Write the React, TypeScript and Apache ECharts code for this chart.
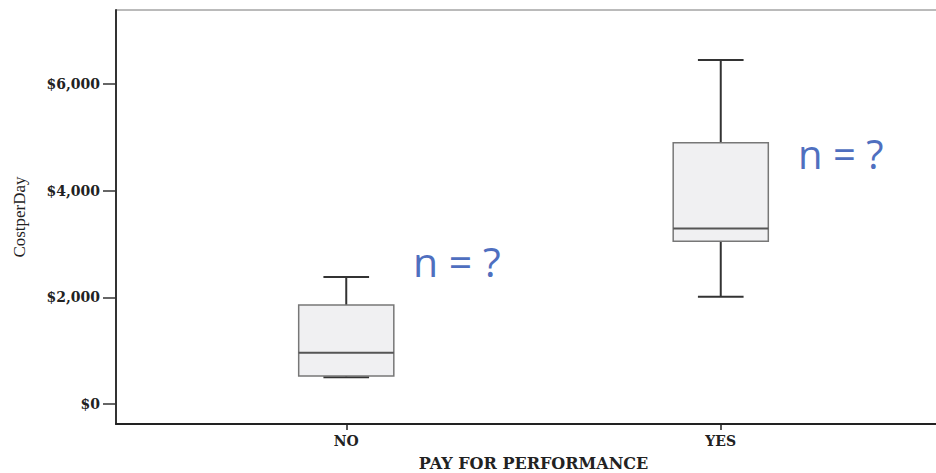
import React, { useEffect, useRef } from "react";
import * as echarts from "echarts";

const categories = ["NO", "YES"];
// [min, Q1, median, Q3, max]
const boxValues = [
  [500, 525, 960, 1855, 2380],
  [2010, 3055, 3290, 4900, 6450],
];
const yTicks = [0, 2000, 4000, 6000];
const yMin = -375;
const yMax = 7390;
const annotations = ["n = ?", "n = ?"];

export default function App() {
  const ref = useRef<HTMLDivElement>(null);
  useEffect(() => {
    if (!ref.current) return;
    const chart = echarts.init(ref.current, null, { renderer: "svg" });
    const serif = "'DejaVu Serif', 'Liberation Serif', serif";
    const option: any = {
      animation: false,
      backgroundColor: "#ffffff",
      grid: [
        { left: 116, right: -10, top: 10, bottom: 49, show: true, borderColor: "#777", borderWidth: 1, backgroundColor: "transparent", outerBoundsMode: "none", containLabel: false },
        { left: 159, right: 28, top: 10, bottom: 49, outerBoundsMode: "none", containLabel: false },
      ],
      xAxis: [
        {
          gridIndex: 0, type: "value", min: 0, max: 1,
          axisLine: { show: true, onZero: false, lineStyle: { color: "#222", width: 2 } },
          axisTick: { show: false }, axisLabel: { show: false }, splitLine: { show: false },
        },
        {
          gridIndex: 1, type: "category", data: categories,
          name: "PAY FOR PERFORMANCE", nameLocation: "middle", nameGap: 31,
          nameTextStyle: { fontFamily: serif, fontWeight: "bold", fontSize: 16, color: "#222", verticalAlign: "top" },
          axisLine: { show: false, onZero: false },
          axisTick: { show: true, alignWithLabel: true, length: 6, lineStyle: { color: "#222", width: 1.5 } },
          axisLabel: { fontFamily: serif, fontWeight: "bold", fontSize: 14, color: "#222", margin: 10 },
          splitLine: { show: false },
        },
      ],
      yAxis: [
        {
          gridIndex: 0, type: "value", min: yMin, max: yMax,
          name: "CostperDay", nameLocation: "middle", nameGap: 88, nameRotate: 90,
          nameTextStyle: { fontFamily: "'Liberation Serif', serif", fontSize: 17, color: "#222" },
          axisLine: { show: true, onZero: false, lineStyle: { color: "#333", width: 2 } },
          axisTick: { show: true, customValues: yTicks, length: 13, inside: false, lineStyle: { color: "#333", width: 1.5 } },
          axisLabel: {
            customValues: yTicks, margin: 16, fontFamily: serif, fontWeight: "bold", fontSize: 14, color: "#222",
            formatter: (v: number) => "$" + Number(v).toLocaleString("en-US"),
          },
          splitLine: { show: false },
        },
        { gridIndex: 1, type: "value", min: yMin, max: yMax, show: false },
      ],
      series: [
        {
          type: "custom",
          xAxisIndex: 1,
          yAxisIndex: 1,
          data: boxValues.map((b, i) => [i, ...b]),
          encode: { x: 0, y: [1, 2, 3, 4, 5] },
          renderItem: (params: any, api: any) => {
            const idx = api.value(0);
            const cx = api.coord([idx, api.value(3)])[0];
            const band = api.size([1, 0])[0];
            const half = band * 0.127;
            const cap = half * 0.48;
            const y = (k: number) => api.coord([idx, api.value(k)])[1];
            const yMn = y(1), yQ1 = y(2), yMd = y(3), yQ3 = y(4), yMx = y(5);
            const wl = { stroke: "#333", lineWidth: 2 };
            return {
              type: "group",
              children: [
                { type: "line", shape: { x1: cx, y1: yQ3, x2: cx, y2: yMx }, style: wl },
                { type: "line", shape: { x1: cx - cap, y1: yMx, x2: cx + cap, y2: yMx }, style: wl },
                { type: "line", shape: { x1: cx, y1: yQ1, x2: cx, y2: yMn }, style: wl },
                { type: "line", shape: { x1: cx - cap, y1: yMn, x2: cx + cap, y2: yMn }, style: wl },
                { type: "rect", shape: { x: cx - half, y: yQ3, width: half * 2, height: yQ1 - yQ3 }, style: { fill: "#f0f0f2", stroke: "#777", lineWidth: 1.5 } },
                { type: "line", shape: { x1: cx - half, y1: yMd, x2: cx + half, y2: yMd }, style: { stroke: "#555", lineWidth: 2 } },
              ],
            };
          },
        },
      ],
      graphic: [
        { type: "text", left: 413, top: 240, style: { text: annotations[0], fontFamily: "'Open Sans', sans-serif", fontSize: 41, fill: "#4f6fbf" } },
        { type: "text", left: 798, top: 133, style: { text: annotations[1], fontFamily: "'Open Sans', sans-serif", fontSize: 40, fill: "#4f6fbf" } },
      ],
    };
    chart.setOption(option);
    return () => chart.dispose();
  }, []);
  return <div ref={ref} style={{ width: 936, height: 473, position: "absolute", left: 0, top: 0 }} />;
}
